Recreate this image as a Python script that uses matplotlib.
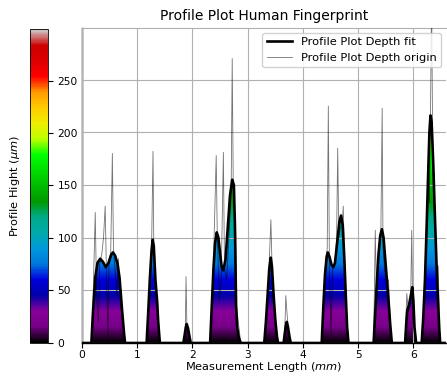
import numpy as np
import matplotlib
matplotlib.use("Agg")
import matplotlib.pyplot as plt
from matplotlib.patches import Polygon
from matplotlib.cm import ScalarMappable
from matplotlib.colors import Normalize

# ---- data ----
fit_x = [0.00, 0.17, 0.20, 0.24, 0.28, 0.33, 0.38, 0.43, 0.48, 0.53, 0.56, 0.60, 0.64, 0.68, 0.72, 0.76, 0.78,
         1.17, 1.20, 1.23, 1.26, 1.28, 1.30, 1.33, 1.36, 1.38, 1.41,
         1.835, 1.86, 1.88, 1.896, 1.92, 1.95, 1.97,
         2.32, 2.35, 2.38, 2.41, 2.44, 2.47, 2.50, 2.53, 2.56, 2.60, 2.64, 2.68, 2.72, 2.75, 2.77, 2.79, 2.81, 2.84, 2.875,
         3.30, 3.33, 3.36, 3.39, 3.418, 3.44, 3.47, 3.50, 3.53, 3.55,
         3.65, 3.67, 3.69, 3.708, 3.73, 3.76, 3.78,
         4.34, 4.37, 4.40, 4.43, 4.45, 4.48, 4.52, 4.55, 4.58, 4.62, 4.66, 4.69, 4.72, 4.75, 4.78, 4.80, 4.825,
         5.28, 5.31, 5.34, 5.37, 5.40, 5.43, 5.46, 5.49, 5.52, 5.55, 5.58, 5.61,
         5.85, 5.87, 5.89, 5.92, 5.95, 5.98, 6.00, 6.02, 6.05,
         6.15, 6.18, 6.21, 6.24, 6.27, 6.29, 6.31, 6.33, 6.36, 6.39, 6.42, 6.45, 6.47, 6.485, 6.59]
fit_y = [0, 0, 30, 62, 76, 80, 77, 72, 76, 84, 86, 83, 76, 62, 35, 10, 0,
         0, 30, 62, 88, 98, 92, 60, 40, 20, 0,
         0, 8, 15, 18, 14, 5, 0,
         0, 35, 70, 95, 105, 100, 85, 72, 69, 80, 110, 140, 155, 150, 110, 35, 15, 5, 0,
         0, 20, 45, 70, 81, 72, 45, 22, 6, 0,
         0, 8, 16, 20, 15, 5, 0,
         0, 35, 65, 82, 86, 82, 74, 72, 76, 95, 115, 121, 112, 80, 40, 15, 0,
         0, 30, 60, 85, 102, 108, 100, 80, 60, 40, 18, 0,
         0, 18, 31, 36, 44, 53, 40, 15, 0,
         0, 25, 60, 110, 165, 200, 216, 210, 170, 120, 73, 35, 12, 0, 0]

origin_x = [0.00, 0.17, 0.20, 0.24, 0.26, 0.28, 0.30, 0.32, 0.36, 0.39, 0.42, 0.44, 0.47, 0.49, 0.52, 0.55, 0.57,
            0.60, 0.63, 0.66, 0.70, 0.74, 0.78,
            1.17, 1.22, 1.26, 1.286, 1.30, 1.33, 1.35, 1.37, 1.41,
            1.835, 1.87, 1.884, 1.90, 1.97,
            2.32, 2.38, 2.43, 2.45, 2.49, 2.52, 2.56, 2.58, 2.62, 2.66, 2.70, 2.72, 2.74, 2.78, 2.80, 2.83, 2.875,
            3.30, 3.36, 3.40, 3.42, 3.44, 3.50, 3.55,
            3.65, 3.68, 3.69, 3.71, 3.74, 3.78,
            4.34, 4.40, 4.44, 4.46, 4.48, 4.51, 4.54, 4.58, 4.61, 4.63, 4.65, 4.68, 4.71, 4.73, 4.76, 4.80, 4.825,
            5.28, 5.31, 5.33, 5.37, 5.41, 5.435, 5.45, 5.48, 5.52, 5.55, 5.58, 5.61,
            5.85, 5.88, 5.91, 5.95, 5.97, 5.99, 6.02, 6.05,
            6.15, 6.20, 6.24, 6.27, 6.29, 6.31, 6.33, 6.35, 6.39, 6.42, 6.45, 6.47, 6.485, 6.59]
origin_y = [0, 0, 40, 124, 60, 30, 20, 75, 85, 100, 130, 75, 5, 80, 85, 180, 90,
            70, 45, 80, 35, 20, 0,
            0, 45, 90, 182, 95, 60, 45, 38, 0,
            0, 10, 63, 15, 0,
            0, 75, 178, 100, 40, 60, 181, 70, 60, 100, 140, 270, 140, 110, 35, 20, 0,
            0, 40, 90, 117, 75, 20, 0,
            0, 25, 45, 30, 10, 0,
            0, 70, 90, 225, 70, 10, 70, 75, 100, 185, 100, 110, 110, 130, 60, 20, 0,
            0, 107, 50, 80, 100, 223, 90, 70, 55, 60, 20, 0,
            0, 47, 30, 40, 107, 20, 10, 0,
            0, 55, 110, 165, 133, 220, 330, 180, 110, 75, 73, 20, 0, 0]

x_ticks = [0, 1, 2, 3, 4, 5, 6]
y_ticks = [0, 50, 100, 150, 200, 250]
x_max = 6.59
y_max = 299

plt.rcParams['font.family'] = ['DejaVu Sans']
fig = plt.figure(figsize=(4.47, 3.79), dpi=100)
ax = fig.add_axes([0.1834, 0.095, 0.8143, 0.831])
cax = fig.add_axes([0.067, 0.0958, 0.040, 0.827])

ax.set_xlim(0, x_max)
ax.set_ylim(0, y_max)

# gradient fill clipped to the fit curve
grad = np.linspace(0, y_max, 512).reshape(-1, 1)
im = ax.imshow(grad, extent=[0, x_max, 0, y_max], origin='lower', aspect='auto',
               cmap='nipy_spectral', vmin=0, vmax=y_max, zorder=1)
verts = list(zip(fit_x, fit_y)) + [(fit_x[-1], 0), (fit_x[0], 0)]
poly = Polygon(verts, closed=True, transform=ax.transData, facecolor='none', edgecolor='none')
ax.add_patch(poly)
im.set_clip_path(poly)

ax.grid(True, color='#b0b0b0', linewidth=0.8, zorder=2)
ax.set_axisbelow(False)

ax.plot(origin_x, origin_y, color='#000000', alpha=0.55, linewidth=0.6, zorder=3,
        label='Profile Plot Depth origin')
ax.plot(fit_x, fit_y, color='black', linewidth=1.9, zorder=4,
        label='Profile Plot Depth fit')

ax.set_xticks(x_ticks)
ax.set_yticks(y_ticks)
ax.set_yticklabels([])
ax.tick_params(axis='both', labelsize=7.7, length=3.5, width=0.8)
ax.tick_params(axis='x', pad=1.5)
ax.tick_params(axis='y', length=0)
ax.set_xlabel('Measurement Length ($mm$)', fontsize=8.2, labelpad=0)
ax.set_title('Profile Plot Human Fingerprint', fontsize=10, pad=6)
for s in ['left', 'bottom']:
    ax.spines[s].set_color('black')
    ax.spines[s].set_linewidth(1.0)
ax.spines['top'].set_color('#b0b0b0')
ax.spines['right'].set_visible(False)

handles, labels = ax.get_legend_handles_labels()
leg = ax.legend(handles[::-1], labels[::-1], loc='upper right', fontsize=8.2,
                framealpha=0.85, edgecolor='#cccccc', borderaxespad=0.4,
                handlelength=2.2)
leg.set_zorder(5)

sm = ScalarMappable(norm=Normalize(0, y_max), cmap='nipy_spectral')
cb = fig.colorbar(sm, cax=cax, ticks=y_ticks)
cb.outline.set_linewidth(0.6)
cax.tick_params(labelsize=7.7, length=3.5, width=0.8)
cax.yaxis.set_label_position('left')
cax.set_ylabel('Profile Hight ($\\mu m$)', fontsize=8.2, labelpad=6)

fig.savefig('out.png', dpi=100)
